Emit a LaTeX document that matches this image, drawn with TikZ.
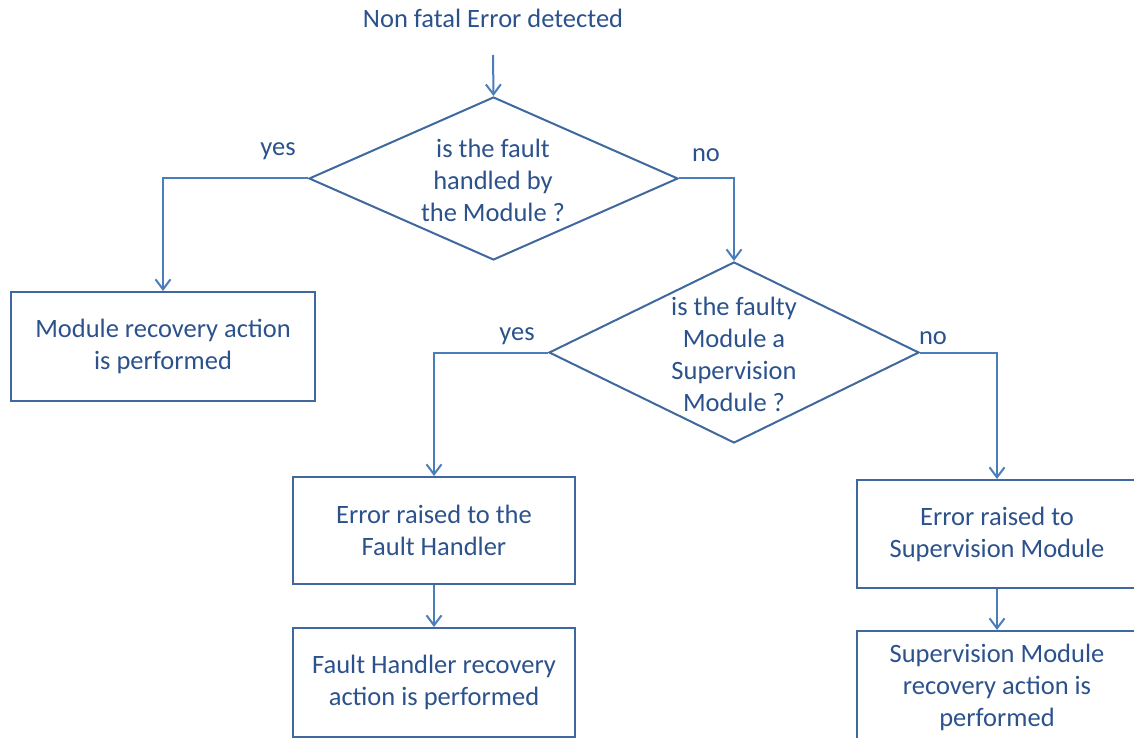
\documentclass[tikz,border=0pt]{standalone}
\usepackage{fontspec}
\setmainfont{Carlito}
\usetikzlibrary{shapes.geometric,arrows.meta}
\definecolor{txtblue}{RGB}{44,82,140}
\definecolor{edgeblue}{RGB}{62,104,158}
\definecolor{arrowblue}{RGB}{74,126,187}
\begin{document}
\begin{tikzpicture}[x=1pt,y=-1pt,
  every node/.style={text=txtblue,font=\fontsize{26.5}{32}\selectfont,align=center,inner sep=0pt},
  procbox/.style={draw=edgeblue,line width=2pt,rectangle},
  decision/.style={draw=edgeblue,line width=2pt,diamond},
  flow/.style={draw=arrowblue,line width=2pt,-{Straight Barb[length=10pt,width=15pt,line width=2pt]}},
  answer/.style={text=txtblue}]
  \useasboundingbox (0,0) rectangle (1134,738);
  \clip (0,0) rectangle (1134,738);

  % start text and the two decisions
  \node (start) at (493,18) {Non fatal Error detected};
  \coordinate (startend) at (493,55);
  \node[decision,minimum width=369pt,minimum height=163pt] (d1) at (493.5,178.5) {};
  \node (d1text) at (493,180) {is the fault\\handled by\\the Module ?};
  \node[decision,minimum width=370pt,minimum height=181pt] (d2) at (734,352.5) {};
  \node (d2text) at (734,354) {is the faulty\\Module a\\Supervision\\Module ?};

  % action boxes
  \node[procbox,minimum width=304pt,minimum height=109pt] (b1) at (163,346.5)
    {Module recovery action\\is performed};
  \node[procbox,minimum width=282pt,minimum height=107pt] (b2) at (434,530.5)
    {Error raised to the\\Fault Handler};
  \node[procbox,minimum width=282pt,minimum height=109pt] (b3) at (434,682.5)
    {Fault Handler recovery\\action is performed};
  \node[procbox,minimum width=280pt,minimum height=108pt] (b4) at (997,534)
    {Error raised to\\Supervision Module};
  \node[procbox,minimum width=280pt,minimum height=112pt] (b5) at (997,687)
    {Supervision Module\\recovery action is\\performed};

  % connectors
  \draw[flow] (startend) -- (d1.north);
  \draw[flow] (d1.west) -| (b1.north);
  \draw[flow] (d1.east) -| (d2.north);
  \draw[flow] (d2.west) -| (b2.north);
  \draw[flow] (d2.east) -| (b4.north);
  \draw[flow] (b2.south) -- (b3.north);
  \draw[flow] (b4.south) -- (b5.north);

  % branch labels
  \node[answer] (l1) at (278,151) {yes};
  \node[answer] (l2) at (706,155) {no};
  \node[answer] (l3) at (517,336) {yes};
  \node[answer] (l4) at (933,338) {no};
\end{tikzpicture}
\end{document}
